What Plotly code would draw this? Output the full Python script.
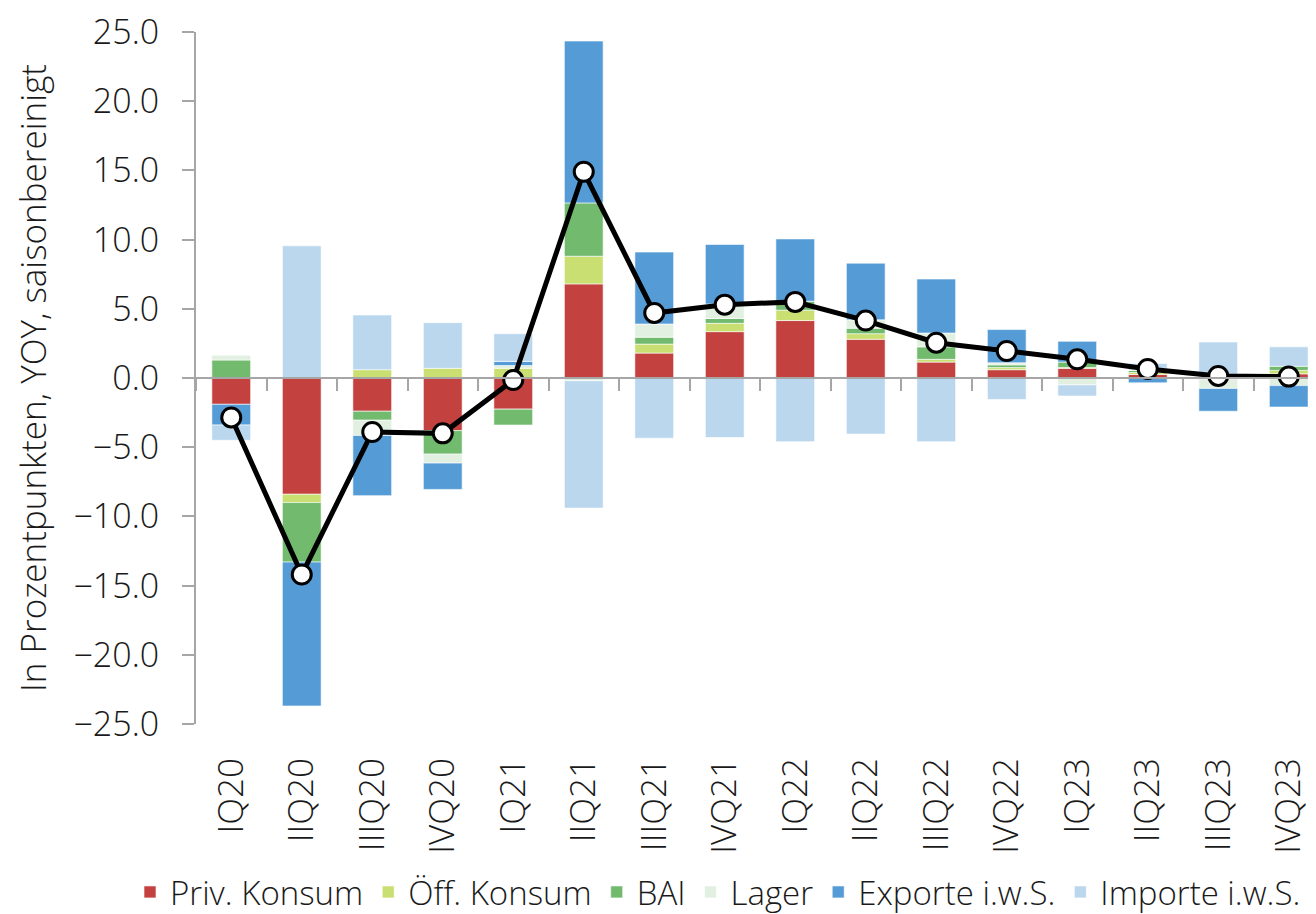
import plotly.graph_objects as go

quarters = ["IQ20", "IIQ20", "IIIQ20", "IVQ20", "IQ21", "IIQ21", "IIIQ21", "IVQ21",
            "IQ22", "IIQ22", "IIIQ22", "IVQ22", "IQ23", "IIQ23", "IIIQ23", "IVQ23"]

priv_konsum = [-1.9, -8.4, -2.4, -3.8, -2.25, 6.8, 1.8, 3.35, 4.15, 2.8, 1.15, 0.6, 0.7, 0.25, -0.1, 0.3]
oeff_konsum = [0.0, -0.6, 0.6, 0.7, 0.7, 2.0, 0.65, 0.6, 0.75, 0.4, 0.2, 0.15, 0.05, 0.15, 0.0, 0.25]
bai = [1.3, -4.3, -0.65, -1.7, -1.15, 3.85, 0.5, 0.35, 0.65, 0.4, 0.9, 0.2, 0.4, 0.15, 0.0, 0.3]
lager = [0.35, 0.0, -1.1, -0.65, 0.2, -0.2, 0.95, 1.05, 0.0, 0.6, 1.0, 0.15, -0.5, 0.15, -0.65, -0.55]
exporte = [-1.5, -10.4, -4.35, -1.9, 0.3, 11.7, 5.2, 4.3, 4.5, 4.1, 3.9, 2.4, 1.5, -0.35, -1.65, -1.55]
importe = [-1.1, 9.55, 3.95, 3.3, 2.0, -9.2, -4.35, -4.3, -4.6, -4.05, -4.6, -1.55, -0.8, 0.35, 2.6, 1.4]
bip = [-2.85, -14.2, -3.9, -4.0, -0.15, 14.9, 4.7, 5.3, 5.5, 4.15, 2.55, 1.95, 1.35, 0.65, 0.15, 0.1]

series_names = ["Priv. Konsum", "Öff. Konsum", "BAI", "Lager", "Exporte i.w.S.", "Importe i.w.S."]
series_values = [priv_konsum, oeff_konsum, bai, lager, exporte, importe]
series_colors = ["#C3413F", "#C9DF72", "#72BA6E", "#E2F0E2", "#559CD6", "#BAD7EE"]

FONT = "'Open Sans', Lato, sans-serif"
FS = 35

fig = go.Figure()
for name, vals, col in zip(series_names, series_values, series_colors):
    fig.add_trace(go.Bar(
        x=quarters, y=vals, name=name,
        marker=dict(color=col, line=dict(color="rgba(255,255,255,0.6)", width=1)),
        xaxis="x", yaxis="y",
    ))

fig.add_trace(go.Scatter(
    x=quarters, y=bip, name="BIP", mode="lines+markers", showlegend=False,
    line=dict(color="black", width=5),
    marker=dict(symbol="circle", size=19, color="white", line=dict(color="black", width=3)),
    xaxis="x2", yaxis="y",
))

# page is offset by an 8px body margin
W, H = 1316, 914
ML, MT = 188, 24
PH = 692
PW = W - ML
fig.update_layout(
    width=W, height=H,
    margin=dict(l=ML, r=0, t=MT, b=H - MT - PH, pad=0, autoexpand=False),
    barmode="relative", bargap=0.45,
    plot_bgcolor="white", paper_bgcolor="white",
    font=dict(family=FONT, size=FS, color="#1a1a1a", weight=300),
    xaxis=dict(
        type="category", categoryorder="array", categoryarray=quarters,
        range=[-0.5, 15.5], domain=[0, 1], automargin=False,
        showline=False, showgrid=False, zeroline=False, ticks="",
        tickangle=-90, tickfont=dict(size=FS), ticklabelstandoff=26,
    ),
    xaxis2=dict(
        type="category", categoryorder="array", categoryarray=quarters,
        matches="x", overlaying="x", anchor="free", position=0.5, side="bottom",
        automargin=False,
        showline=True, linecolor="#A6A6A6", linewidth=2,
        ticks="outside", tickson="boundaries", ticklen=12, tickwidth=2, tickcolor="#A6A6A6",
        showticklabels=False, showgrid=False, zeroline=False,
    ),
    yaxis=dict(
        range=[-25, 25], dtick=5, tick0=0, tickformat=".1f", automargin=False,
        showline=True, linecolor="#A6A6A6", linewidth=2,
        ticks="outside", ticklen=12, tickwidth=2, tickcolor="#A6A6A6",
        showgrid=False, zeroline=False, tickfont=dict(size=34), ticklabelstandoff=16,
        ticklabeloverflow="allow",
        title=dict(text="In Prozentpunkten, YOY, saisonbereinigt", font=dict(size=FS), standoff=16),
    ),
    legend=dict(
        orientation="h", x=(122 - ML) / PW, xanchor="left",
        y=(MT + PH - 884) / PH, yanchor="middle",
        font=dict(size=33), itemwidth=30, traceorder="normal",
    ),
)

fig.write_html("out.html")
